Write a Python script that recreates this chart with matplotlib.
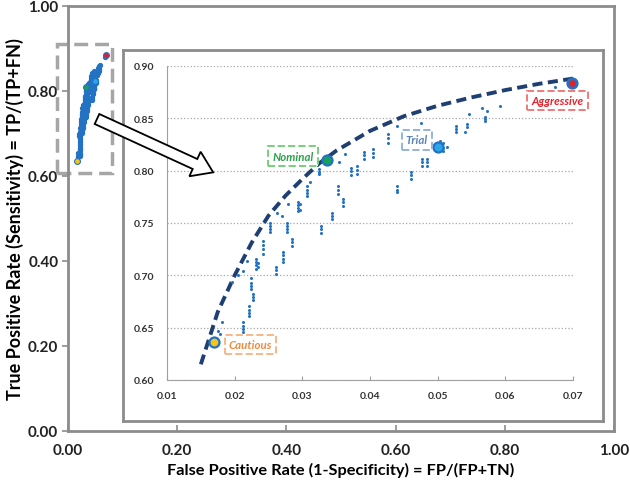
import matplotlib
matplotlib.use("Agg")
import matplotlib.pyplot as plt
from matplotlib.patches import Rectangle, FancyArrow

plt.rcParams['font.family'] = ['Lato', 'DejaVu Sans']

# scattered operating points
fpr = [0.0175, 0.0178, 0.0181, 0.0196, 0.0205,
       0.0212, 0.0212, 0.0212, 0.0212,
       0.0221, 0.0221, 0.0221, 0.0221,
       0.0227, 0.0227, 0.0227,
       0.0224, 0.0224, 0.0224, 0.0224,
       0.0212, 0.0218,
       0.0232, 0.0232, 0.0232, 0.0232, 0.0234, 0.0234,
       0.0242, 0.0242, 0.0242, 0.0242,
       0.0252, 0.0252, 0.0252, 0.0252,
       0.0261, 0.0261, 0.0261,
       0.0263, 0.0270, 0.0279,
       0.0272, 0.0272, 0.0272, 0.0272,
       0.0277, 0.0277, 0.0277, 0.0277,
       0.0285, 0.0285, 0.0285,
       0.0293, 0.0293, 0.0293, 0.0293, 0.0296, 0.0296,
       0.0307, 0.0307, 0.0307, 0.0307, 0.0311,
       0.0325, 0.0325, 0.0325,
       0.0328, 0.0328, 0.0328,
       0.0344, 0.0344, 0.0344,
       0.0353, 0.0353, 0.0353,
       0.0360, 0.0360, 0.0360,
       0.0354, 0.0363,
       0.0372, 0.0372, 0.0372,
       0.0381, 0.0381, 0.0381,
       0.0391, 0.0391, 0.0391,
       0.0404, 0.0404, 0.0404,
       0.0427, 0.0427, 0.0427,
       0.0440,
       0.0440, 0.0440, 0.0440,
       0.0461, 0.0461, 0.0461,
       0.0461, 0.0475,
       0.0477, 0.0477, 0.0477,
       0.0484, 0.0484, 0.0484,
       0.0503, 0.0508, 0.0508, 0.0508, 0.0514,
       0.0527, 0.0527, 0.0527,
       0.0540, 0.0543, 0.0543,
       0.0546,
       0.0565, 0.0573, 0.0570, 0.0570, 0.0570,
       0.0592,
       0.0673]
tpr = [0.647, 0.644, 0.655, 0.694, 0.700,
       0.655, 0.652, 0.649, 0.646,
       0.671, 0.667, 0.664, 0.661,
       0.682, 0.679, 0.676,
       0.697, 0.693, 0.690, 0.687,
       0.704, 0.714,
       0.716, 0.713, 0.710, 0.706, 0.712, 0.708,
       0.733, 0.729, 0.725, 0.720,
       0.750, 0.747, 0.744, 0.741,
       0.708, 0.705, 0.701,
       0.760, 0.757, 0.768,
       0.722, 0.719, 0.716, 0.713,
       0.750, 0.747, 0.744, 0.741,
       0.735, 0.732, 0.728,
       0.770, 0.767, 0.764, 0.761, 0.768, 0.762,
       0.785, 0.782, 0.779, 0.776, 0.789,
       0.802, 0.799, 0.797,
       0.747, 0.744, 0.740,
       0.760, 0.757, 0.754,
       0.785, 0.782, 0.778,
       0.773, 0.770, 0.766,
       0.808, 0.816,
       0.803, 0.800, 0.796,
       0.804, 0.801, 0.797,
       0.818, 0.815, 0.811,
       0.821, 0.817, 0.813,
       0.835, 0.831, 0.826,
       0.843,
       0.785, 0.782, 0.780,
       0.799, 0.796, 0.792,
       0.838, 0.846,
       0.811, 0.808, 0.804,
       0.811, 0.808, 0.804,
       0.828, 0.826, 0.822, 0.819, 0.823,
       0.843, 0.840, 0.837,
       0.837, 0.845, 0.842,
       0.854,
       0.860, 0.857, 0.851, 0.849, 0.847,
       0.862,
       0.880]

# upper envelope (dashed)
curve_fpr = [0.0150, 0.0165, 0.0175, 0.0200, 0.0225, 0.0250, 0.0275, 0.0300,
             0.0325, 0.0350, 0.0400, 0.0450, 0.0500, 0.0550, 0.0600, 0.0650,
             0.0700]
curve_tpr = [0.615, 0.645, 0.665, 0.700, 0.731, 0.757, 0.776, 0.792,
             0.807, 0.819, 0.838, 0.852, 0.862, 0.870, 0.877, 0.883, 0.888]

# named operating points
names = ['Cautious', 'Nominal', 'Trial', 'Aggressive']
pt_fpr = [0.0169, 0.0336, 0.0500, 0.0698]
pt_tpr = [0.636, 0.810, 0.8226, 0.884]
pt_fill = ['#f5c518', '#17a05a', '#2aa6ea', '#e0202a']
txt_col = ['#f08a3c', '#2ca34a', '#5a84b8', '#e8202a']
box_col = ['#f7b888', '#77d07a', '#94b4dc', '#f27a7a']
lab_x = [0.0223, 0.0286, 0.0469, 0.0677]
lab_y = [0.6335, 0.814, 0.8293, 0.8666]

blue = '#2472c4'
gray = '#8c8c8c'

fig = plt.figure(figsize=(6.3, 4.85), dpi=100)

# main ROC axes
ax = fig.add_axes([68/630, 53/485, 546/630, 425/485])
ax.plot(fpr, tpr, 'o', color=blue, ms=2.8, mec=blue)
for i in range(4):
    ax.plot(pt_fpr[i], pt_tpr[i], 'o', ms=4.2, mfc=pt_fill[i], mec=blue, mew=0.8)
ax.set_xlim(0, 1)
ax.set_ylim(0, 1)
ax.set_xticks([0, 0.2, 0.4, 0.6, 0.8, 1.0])
ax.set_yticks([0, 0.2, 0.4, 0.6, 0.8, 1.0])
ax.set_xticklabels(['%.2f' % v for v in ax.get_xticks()])
ax.set_yticklabels(['%.2f' % v for v in ax.get_yticks()])
for s in ax.spines.values():
    s.set_color(gray)
    s.set_linewidth(2)
ax.tick_params(axis='x', direction='in', length=4, color=gray, width=1.2,
               labelsize=11, pad=9)
ax.tick_params(axis='y', direction='out', length=4, color=gray, width=1.2,
               labelsize=11, pad=3)
for t in ax.get_xticklabels() + ax.get_yticklabels():
    t.set_fontweight('bold')
    t.set_color('#222222')
ax.set_xlabel('False Positive Rate (1-Specificity) = FP/(FP+TN)',
              fontsize=11.8, fontweight='bold', labelpad=3)
ax.set_ylabel('True Positive Rate (Sensitivity) = TP/(TP+FN)',
              fontsize=13, fontweight='bold', labelpad=3)

# zoom selection box
ax.add_patch(Rectangle((-0.02, 0.607), 0.101, 0.303, fill=False,
                       ec='#a6a6a6', lw=2.5, ls=(0, (4, 2)), clip_on=False))

# inset frame
frame = fig.add_axes([123/630, 63/485, 480/630, 371/485])
frame.set_xticks([])
frame.set_yticks([])
for s in frame.spines.values():
    s.set_color(gray)
    s.set_linewidth(2)

# inset plot
ax2 = fig.add_axes([167/630, 104/485, 406/630, 314/485])
ax2.plot(curve_fpr, curve_tpr, ls='--', color='#1f3f73', lw=2.8,
         dashes=(2.6, 1.4), zorder=2)
ax2.plot(fpr, tpr, 'o', color=blue, ms=2.2, mew=0, zorder=3)
for i in range(4):
    ax2.plot(pt_fpr[i], pt_tpr[i], 'o', ms=7.2 if i < 3 else 6.8,
             mfc=pt_fill[i], mec=blue, mew=1.6 if i < 3 else 2.0, zorder=4,
             clip_on=False)
    ax2.text(lab_x[i], lab_y[i], names[i], color=txt_col[i], fontsize=8.3,
             fontstyle='italic', fontweight='bold', ha='center', va='center',
             zorder=5, clip_on=False,
             bbox=dict(boxstyle='square,pad=0.35', fc='white', ec=box_col[i],
                       ls='--', lw=1.4))
ax2.set_xlim(0.01, 0.07)
ax2.set_ylim(0.60, 0.90)
ax2.set_xticks([0.01, 0.02, 0.03, 0.04, 0.05, 0.06, 0.07])
ax2.set_yticks([0.60, 0.65, 0.70, 0.75, 0.80, 0.85, 0.90])
ax2.set_xticklabels(['%.2f' % v for v in ax2.get_xticks()])
ax2.set_yticklabels(['%.2f' % v for v in ax2.get_yticks()])
ax2.yaxis.grid(True, ls=':', color='#a8a8a8', lw=0.9)
ax2.spines['top'].set_visible(False)
ax2.spines['right'].set_visible(False)
ax2.spines['left'].set_color('#a0a0a0')
ax2.spines['bottom'].set_color('#a0a0a0')
ax2.tick_params(axis='x', direction='in', length=3, color='#a0a0a0',
                labelsize=7.5, pad=8)
ax2.tick_params(axis='y', length=0, labelsize=7.5, pad=9)
for t in ax2.get_xticklabels() + ax2.get_yticklabels():
    t.set_fontweight('bold')
    t.set_color('#333333')

# hollow arrow from the selection to the inset
arrow = FancyArrow(0.97, 3.65, 0.98, -0.45, width=0.11, head_width=0.27,
                   head_length=0.2, length_includes_head=False,
                   fc='white', ec='black', lw=1.3,
                   transform=fig.dpi_scale_trans, zorder=10)
fig.add_artist(arrow)

fig.savefig('out.png', dpi=100)
